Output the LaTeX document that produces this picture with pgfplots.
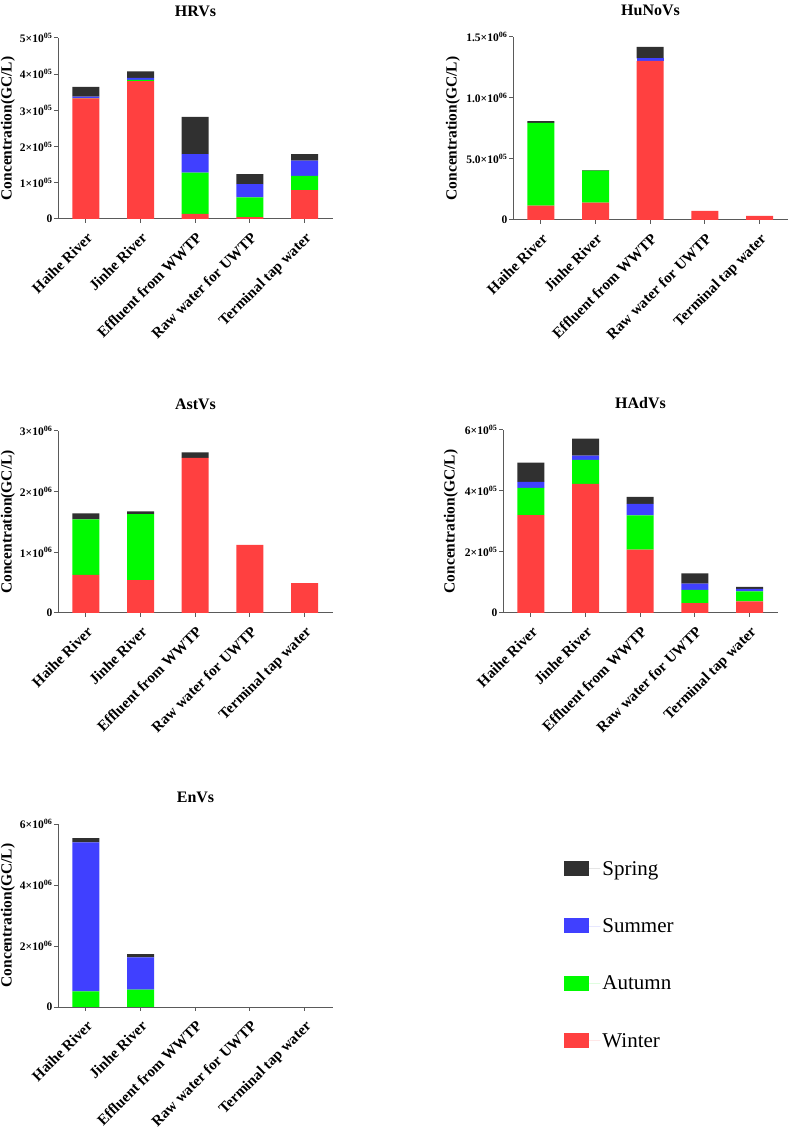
\documentclass[border=0pt]{standalone}
\usepackage{fontspec}
\setmainfont{Liberation Serif}
\usepackage{pgfplots}
\usepackage{pgfplotstable}
\pgfplotsset{compat=1.18}
\definecolor{cwin}{RGB}{255,64,64}
\definecolor{caut}{RGB}{0,250,0}
\definecolor{csum}{RGB}{64,64,255}
\definecolor{cspr}{RGB}{48,48,48}
\definecolor{axgray}{RGB}{90,90,90}
\newcommand{\sci}[2]{#1×10\textsuperscript{#2}}

\pgfplotstableread{
x W A S Sp
0 333000 1000 4000 27000
1 381000 3000 6000 18000
2 14000 114000 51000 103000
3 5000 55000 36000 28000
4 80000 39000 42000 18000
}\hrv
\pgfplotstableread{
x W A S Sp
0 117000 679000 0 14000
1 142000 262000 0 5000
2 1304000 0 21000 93000
3 74000 0 0 0
4 33000 0 0 0
}\hunov
\pgfplotstableread{
x W A S Sp
0 630000 913000 0 99000
1 542000 1089000 0 44000
2 2556000 0 0 93000
3 1122000 0 0 0
4 493000 0 0 0
}\astv
\pgfplotstableread{
x W A S Sp
0 321000 89000 20000 63000
1 423000 79000 14000 56000
2 208000 112000 38000 23000
3 32000 44000 20000 34000
4 38000 33000 8000 7000
}\hadv
\pgfplotstableread{
x W A S Sp
0 0 515000 4885000 140000
1 0 570000 1060000 100000
2 0 0 0 0
3 0 0 0 0
4 0 0 0 0
}\env

\pgfplotsset{
  panel/.style={
    scale only axis, width=275bp, height=182bp,
    ybar stacked, bar width=27bp,
    xmin=-0.51, xmax=4.52, ymin=0,
    axis x line*=bottom, axis y line*=left,
    axis line style={draw=axgray, line width=1pt},
    xtick={0,1,2,3,4},
    xticklabels={Haihe River, Jinhe River, Effluent from WWTP, Raw water for UWTP, Terminal tap water},
    xticklabel style={rotate=45, anchor=north east, inner sep=1pt, font=\bfseries\fontsize{15bp}{17bp}\selectfont},
    xticklabel shift=7bp,
    yticklabel style={font=\bfseries\fontsize{11.5bp}{13bp}\selectfont, inner sep=1.5pt},
    tick style={draw=axgray, line width=1pt},
    major tick length=4bp, tick align=outside,
    ylabel={Concentration(GC/L)},
    ylabel style={font=\bfseries\fontsize{15.5bp}{17bp}\selectfont, at={(axis description cs:0,0.5)}, anchor=center},
    title style={font=\bfseries\fontsize{16bp}{18bp}\selectfont, at={(axis description cs:0.5,1)}, anchor=base, yshift=16bp},
    scaled y ticks=false,
  },
}

\begin{document}
\begin{tikzpicture}
\path[use as bounding box] (0,0) rectangle (790bp,1131bp);

% HRVs
\begin{axis}[panel, at={(58bp,912bp)}, anchor=south west, height=181bp,
  title={HRVs}, ymax=500000,
  ytick={0,100000,200000,300000,400000,500000},
  yticklabels={0,\sci{1}{05},\sci{2}{05},\sci{3}{05},\sci{4}{05},\sci{5}{05}},
  ylabel style={yshift=50bp}]
\addplot[fill=cwin, draw=none] table[x=x,y=W]{\hrv};
\addplot[fill=caut, draw=none] table[x=x,y=A]{\hrv};
\addplot[fill=csum, draw=none] table[x=x,y=S]{\hrv};
\addplot[fill=cspr, draw=none] table[x=x,y=Sp]{\hrv};
\end{axis}

% HuNoVs
\begin{axis}[panel, at={(513bp,911bp)}, anchor=south west, height=183bp,
  title={HuNoVs}, ymax=1500000,
  ytick={0,500000,1000000,1500000},
  yticklabels={0,\sci{5.0}{05},\sci{1.0}{06},\sci{1.5}{06}},
  ylabel style={yshift=60bp}]
\addplot[fill=cwin, draw=none] table[x=x,y=W]{\hunov};
\addplot[fill=caut, draw=none] table[x=x,y=A]{\hunov};
\addplot[fill=csum, draw=none] table[x=x,y=S]{\hunov};
\addplot[fill=cspr, draw=none] table[x=x,y=Sp]{\hunov};
\end{axis}

% AstVs
\begin{axis}[panel, at={(58bp,518bp)}, anchor=south west, height=182bp,
  title={AstVs}, ymax=3000000,
  ytick={0,1000000,2000000,3000000},
  yticklabels={0,\sci{1}{06},\sci{2}{06},\sci{3}{06}},
  ylabel style={yshift=50bp}]
\addplot[fill=cwin, draw=none] table[x=x,y=W]{\astv};
\addplot[fill=caut, draw=none] table[x=x,y=A]{\astv};
\addplot[fill=csum, draw=none] table[x=x,y=S]{\astv};
\addplot[fill=cspr, draw=none] table[x=x,y=Sp]{\astv};
\end{axis}

% HAdVs
\begin{axis}[panel, at={(503bp,518bp)}, anchor=south west, height=183bp,
  title={HAdVs}, ymax=600000,
  ytick={0,200000,400000,600000},
  yticklabels={0,\sci{2}{05},\sci{4}{05},\sci{6}{05}},
  ylabel style={yshift=52bp}]
\addplot[fill=cwin, draw=none] table[x=x,y=W]{\hadv};
\addplot[fill=caut, draw=none] table[x=x,y=A]{\hadv};
\addplot[fill=csum, draw=none] table[x=x,y=S]{\hadv};
\addplot[fill=cspr, draw=none] table[x=x,y=Sp]{\hadv};
\end{axis}

% EnVs
\begin{axis}[panel, at={(58bp,124bp)}, anchor=south west, height=183bp,
  title={EnVs}, ymax=6000000,
  ytick={0,2000000,4000000,6000000},
  yticklabels={0,\sci{2}{06},\sci{4}{06},\sci{6}{06}},
  ylabel style={yshift=50bp},
  reverse legend,
  legend style={at={(axis description cs:1.83,0.82)}, anchor=north west, draw=none, fill=none,
    font=\fontsize{21bp}{24bp}\selectfont, row sep=38bp, legend cell align=left},
  legend image code/.code={\fill[#1] (0bp,-7bp) rectangle (25bp,8bp); \path (0bp,0bp) -- (36bp,0bp);}]
\addplot[fill=cwin, draw=none] table[x=x,y=W]{\env};
\addplot[fill=caut, draw=none] table[x=x,y=A]{\env};
\addplot[fill=csum, draw=none] table[x=x,y=S]{\env};
\addplot[fill=cspr, draw=none] table[x=x,y=Sp]{\env};
\legend{Winter,Autumn,Summer,Spring}
\end{axis}
\end{tikzpicture}
\end{document}
